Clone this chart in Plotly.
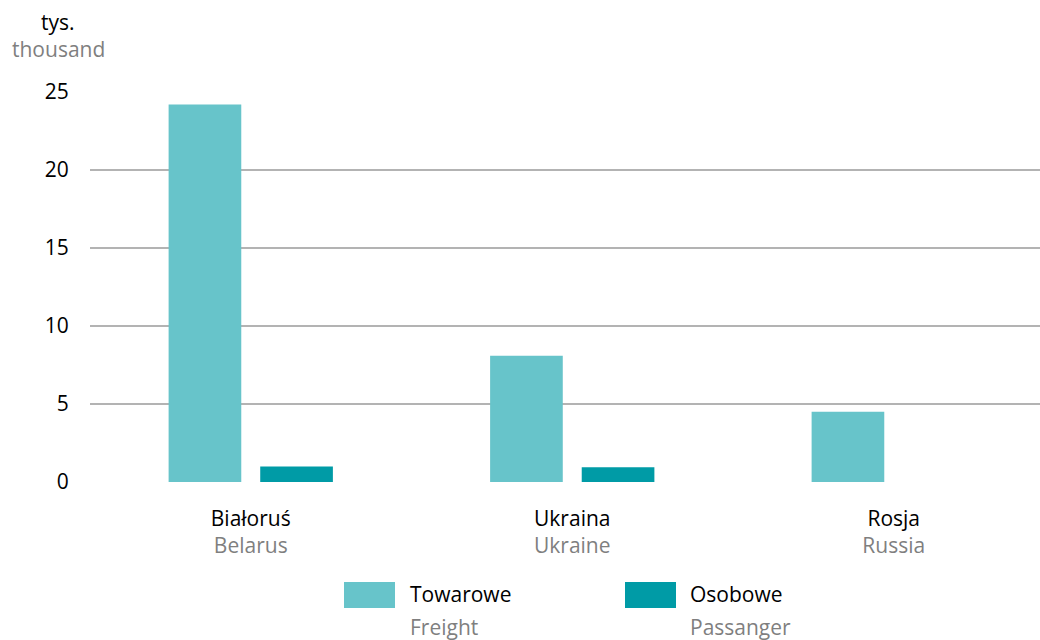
import plotly.graph_objects as go

categories_pl = ["Białoruś", "Ukraina", "Rosja"]
categories_en = ["Belarus", "Ukraine", "Russia"]
freight = [24.2, 8.1, 4.5]
passenger = [1.0, 0.95, 0.0]
series_pl = ["Towarowe", "Osobowe"]
series_en = ["Freight", "Passanger"]
y_ticks = [0, 5, 10, 15, 20, 25]

W, H = 1040, 640
ML, MR, MT, MB = 90, 0, 92, 640 - 482
LIGHT = "#67C4CA"
DARK = "#009BA6"
GRAY = "#7f7f7f"
FONT = "Open Sans"
FS = 21

def px(x):
    return (x - ML) / (W - ML - MR)

def py(y):
    return 1 - (y - MT) / (H - MT - MB)

ticktext = [f"{p}<br><span style='color:{GRAY}'>{e}</span>" for p, e in zip(categories_pl, categories_en)]

cat_px = 321.5
span = (W - ML - MR) / cat_px

fig = go.Figure()
fig.add_trace(go.Bar(x=list(range(3)), y=freight, marker_color=LIGHT, marker_line_width=0,
                     name=series_pl[0], showlegend=False, hoverinfo="skip"))
fig.add_trace(go.Bar(x=list(range(3)), y=passenger, marker_color=DARK, marker_line_width=0,
                     name=series_pl[1], showlegend=False, hoverinfo="skip"))

fig.update_layout(
    width=W, height=H,
    margin=dict(l=ML, r=MR, t=MT, b=MB, pad=0),
    paper_bgcolor="white", plot_bgcolor="white",
    barmode="group", bargap=0.43, bargroupgap=0.207,
    font=dict(family=FONT, size=FS, color="black"),
    xaxis=dict(range=[-0.5, -0.5 + span], tickvals=list(range(3)), ticktext=ticktext,
               showgrid=False, zeroline=False, showline=False, ticks="",
               ticklabelstandoff=22),
    yaxis=dict(range=[0, 25], tickvals=y_ticks, showgrid=True, gridcolor="#b3b3b3",
               gridwidth=1.5, zeroline=False, showline=False,
               ticks="outside", ticklen=16, tickcolor="rgba(0,0,0,0)"),
)

annotations = [
    dict(text="tys.", x=px(58), y=py(22), xref="paper", yref="paper", showarrow=False,
         font=dict(size=FS, color="black"), xanchor="center", yanchor="middle"),
    dict(text="thousand", x=px(58), y=py(49), xref="paper", yref="paper", showarrow=False,
         font=dict(size=FS, color=GRAY), xanchor="center", yanchor="middle"),
]
legend_items = [(344, 395, 408, LIGHT, 0), (625, 676, 688, DARK, 1)]
shapes = []
for x0, x1, tx, col, i in legend_items:
    shapes.append(dict(type="rect", xref="paper", yref="paper", x0=px(x0), x1=px(x1),
                       y0=py(608), y1=py(582), fillcolor=col, line_width=0))
    annotations.append(dict(text=series_pl[i], x=px(tx), y=py(594), xref="paper", yref="paper",
                            showarrow=False, xanchor="left", yanchor="middle",
                            font=dict(size=FS, color="black")))
    annotations.append(dict(text=series_en[i], x=px(tx), y=py(627), xref="paper", yref="paper",
                            showarrow=False, xanchor="left", yanchor="middle",
                            font=dict(size=FS, color=GRAY)))
fig.update_layout(annotations=annotations, shapes=shapes)

fig.write_html(
    "out.html",
    config={"displayModeBar": False},
    post_script="document.body.style.margin='0';document.body.style.overflow='hidden';",
)
